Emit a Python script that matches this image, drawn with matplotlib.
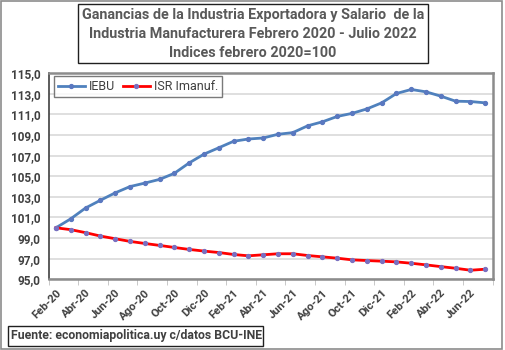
import matplotlib
matplotlib.use("Agg")
import matplotlib.pyplot as plt
from matplotlib.patches import Rectangle

plt.rcParams['font.family'] = ['Roboto', 'DejaVu Sans']

months = ["Feb-20", "Mar-20", "Abr-20", "May-20", "Jun-20", "Jul-20", "Ago-20", "Sep-20",
          "Oct-20", "Nov-20", "Dic-20", "Ene-21", "Feb-21", "Mar-21", "Abr-21", "May-21",
          "Jun-21", "Jul-21", "Ago-21", "Sep-21", "Oct-21", "Nov-21", "Dic-21", "Ene-22",
          "Feb-22", "Mar-22", "Abr-22", "May-22", "Jun-22", "Jul-22"]
iebu = [100.0, 100.87, 101.92, 102.67, 103.39, 104.0, 104.34, 104.7, 105.29, 106.3,
        107.15, 107.77, 108.4, 108.62, 108.72, 109.08, 109.24, 109.9, 110.29, 110.81,
        111.11, 111.54, 112.13, 113.04, 113.43, 113.2, 112.78, 112.29, 112.26, 112.13]
isr = [100.0, 99.82, 99.53, 99.2, 98.94, 98.68, 98.48, 98.29, 98.09, 97.9,
       97.74, 97.6, 97.41, 97.28, 97.38, 97.48, 97.48, 97.31, 97.18, 97.05,
       96.89, 96.82, 96.76, 96.69, 96.56, 96.4, 96.23, 96.07, 95.88, 95.98]
yticks = [95, 97, 99, 101, 103, 105, 107, 109, 111, 113, 115]
title_lines = ["Ganancias de la Industria Exportadora y Salario  de la",
               "Industria Manufacturera Febrero 2020 - Julio 2022",
               "Indices febrero 2020=100"]
source = "Fuente: economiapolitica.uy c/datos BCU-INE"

W, H = 505, 350
fig = plt.figure(figsize=(W / 100, H / 100), dpi=100)

def fx(x):
    return x / W

def fy(y):
    return 1 - y / H

# outer border
fig.patches.append(Rectangle((fx(1), fy(349)), fx(502) - fx(1), fy(1) - fy(349),
                             transform=fig.transFigure, fill=False, edgecolor='#8c8c8c', lw=1.2))

ax = fig.add_axes([fx(48.5), fy(279.3), fx(492.7) - fx(48.5), fy(73.3) - fy(279.3)])
x = list(range(len(months)))
ax.plot(x, iebu, color='#4f81bd', lw=2, marker='o', ms=2.8, mfc='#5a78c0', mec='#5a78c0',
        label='IEBU', zorder=3)
ax.plot(x, isr, color='#ff0000', lw=2, marker='o', ms=2.8, mfc='#7a6fc0', mec='#7a6fc0',
        label='ISR Imanuf.', zorder=3)

ax.set_xlim(-0.5, len(months) - 0.5)
ax.set_ylim(95, 115)
ax.set_yticks(yticks)
ax.set_yticklabels([f"{v:.1f}".replace('.', ',') for v in yticks])
ax.grid(axis='y', color='#d9d9d9', lw=1.2)
ax.set_axisbelow(True)

ax.set_xticks(x[::2])
ax.set_xticklabels(months[::2], rotation=45, ha='right', va='top', rotation_mode='anchor')
ax.set_xticks([i - 0.5 for i in range(0, len(months) + 1, 2)], minor=True)
ax.tick_params(axis='x', which='major', length=0, pad=6, labelsize=8.2, labelcolor='#404040')
ax.tick_params(axis='x', which='minor', length=4, color='#bfbfbf')
ax.tick_params(axis='y', length=0, pad=6, labelsize=8.5, labelcolor='#404040')
for lab in ax.get_xticklabels() + ax.get_yticklabels():
    lab.set_fontweight('bold')

for s in ['top', 'right']:
    ax.spines[s].set_color('#8c8c8c')
    ax.spines[s].set_linewidth(1.8)
ax.spines['left'].set_color('#404040')
ax.spines['left'].set_linewidth(1.2)
ax.spines['bottom'].set_color('#8c8c8c')
ax.spines['bottom'].set_linewidth(1.8)

leg = ax.legend(loc='upper left', ncol=2, frameon=True, fancybox=False, fontsize=9,
                bbox_to_anchor=(0.012, 0.985), handlelength=2.2, handletextpad=0.3,
                columnspacing=0.6, borderpad=0.3, borderaxespad=0.0)
leg.get_frame().set_edgecolor('#595959')
leg.get_frame().set_linewidth(1.0)
for t in leg.get_texts():
    t.set_color('#404040')

# title box
fig.patches.append(Rectangle((fx(78), fy(63)), fx(428) - fx(78), fy(4) - fy(63),
                             transform=fig.transFigure, fill=False, edgecolor='#202020', lw=1.0))
for i, line in enumerate(title_lines):
    fig.text(fx(253), fy(15 + 19 * i), line, ha='center', va='center', fontsize=10.4,
             fontweight='bold', color='#595959')

# source box
fig.patches.append(Rectangle((fx(8), fy(345.5)), fx(263) - fx(8), fy(326) - fy(345.5),
                             transform=fig.transFigure, fill=False, edgecolor='#202020', lw=1.0))
fig.text(fx(11), fy(336), source, ha='left', va='center', fontsize=8.8,
         fontweight='bold', color='#404040')

fig.savefig('out.png', dpi=100)
